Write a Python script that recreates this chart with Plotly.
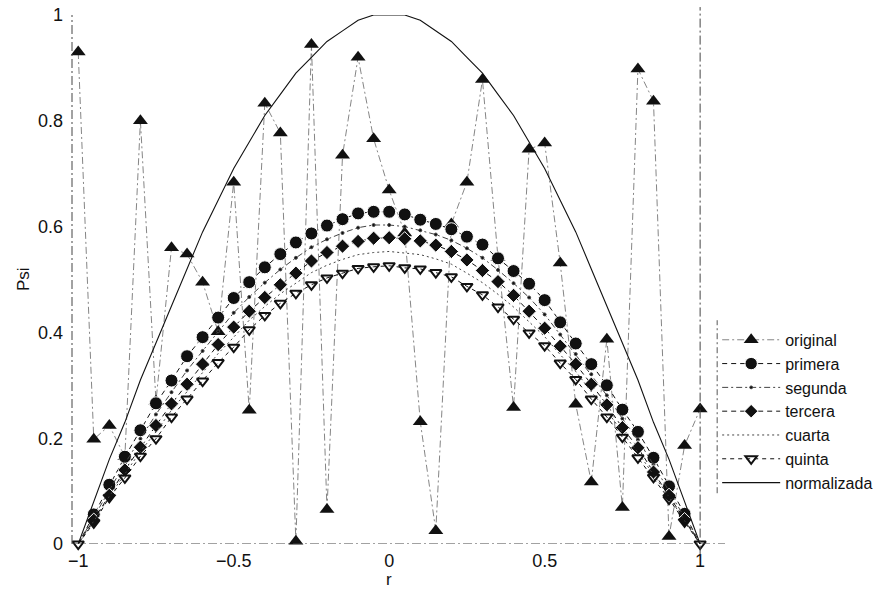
import plotly.graph_objects as go

# radial grid
r = [-1.0, -0.95, -0.9, -0.85, -0.8, -0.75, -0.7, -0.65, -0.6, -0.55,
     -0.5, -0.45, -0.4, -0.35, -0.3, -0.25, -0.2, -0.15, -0.1, -0.05,
     0.0, 0.05, 0.1, 0.15, 0.2, 0.25, 0.3, 0.35, 0.4, 0.45,
     0.5, 0.55, 0.6, 0.65, 0.7, 0.75, 0.8, 0.85, 0.9, 0.95, 1.0]

original = [0.93, 0.198, 0.224, 0.165, 0.80, 0.27, 0.56, 0.548, 0.495, 0.401,
            0.684, 0.253, 0.833, 0.777, 0.005, 0.944, 0.065, 0.735, 0.920, 0.766,
            0.669, 0.588, 0.231, 0.025, 0.605, 0.684, 0.878, 0.541, 0.258, 0.746,
            0.758, 0.531, 0.264, 0.117, 0.387, 0.069, 0.898, 0.837, 0.014, 0.186,
            0.255]

primera = [0, 0.056, 0.112, 0.165, 0.215, 0.266, 0.309, 0.355, 0.391, 0.428,
           0.465, 0.495, 0.523, 0.548, 0.570, 0.587, 0.602, 0.614, 0.625, 0.628,
           0.628, 0.623, 0.613, 0.605, 0.595, 0.581, 0.566, 0.540, 0.516, 0.492,
           0.461, 0.419, 0.379, 0.340, 0.300, 0.254, 0.212, 0.163, 0.109, 0.057, 0]

segunda = [0, 0.050, 0.102, 0.152, 0.199, 0.245, 0.287, 0.328, 0.365, 0.402,
           0.437, 0.467, 0.494, 0.519, 0.541, 0.561, 0.576, 0.588, 0.598, 0.603,
           0.603, 0.600, 0.593, 0.585, 0.574, 0.559, 0.541, 0.518, 0.493, 0.466,
           0.434, 0.396, 0.359, 0.321, 0.281, 0.237, 0.197, 0.150, 0.100, 0.051, 0]

tercera = [0, 0.045, 0.092, 0.140, 0.183, 0.224, 0.265, 0.302, 0.340, 0.377,
           0.410, 0.440, 0.466, 0.490, 0.512, 0.535, 0.551, 0.563, 0.572, 0.578,
           0.579, 0.577, 0.573, 0.565, 0.553, 0.537, 0.517, 0.496, 0.470, 0.440,
           0.408, 0.374, 0.340, 0.302, 0.263, 0.220, 0.182, 0.136, 0.092, 0.046, 0]

cuarta = [0, 0.043, 0.090, 0.133, 0.175, 0.212, 0.253, 0.288, 0.324, 0.360,
          0.391, 0.423, 0.449, 0.473, 0.493, 0.513, 0.527, 0.538, 0.547, 0.551,
          0.553, 0.550, 0.547, 0.539, 0.529, 0.512, 0.494, 0.472, 0.448, 0.420,
          0.392, 0.358, 0.326, 0.288, 0.252, 0.211, 0.173, 0.131, 0.089, 0.044, 0]

quinta = [0, 0.040, 0.088, 0.125, 0.166, 0.199, 0.240, 0.274, 0.308, 0.343,
          0.372, 0.405, 0.432, 0.455, 0.474, 0.490, 0.503, 0.512, 0.521, 0.524,
          0.526, 0.522, 0.520, 0.513, 0.505, 0.487, 0.471, 0.448, 0.425, 0.399,
          0.375, 0.342, 0.311, 0.274, 0.240, 0.202, 0.163, 0.126, 0.085, 0.042, 0]

normalizada = [0, 0.08, 0.16, 0.23, 0.31, 0.38, 0.45, 0.52, 0.59, 0.65,
               0.71, 0.76, 0.81, 0.85, 0.89, 0.92, 0.95, 0.97, 0.99, 1.0,
               1.0, 1.0, 0.99, 0.97, 0.95, 0.92, 0.89, 0.85, 0.81, 0.76,
               0.71, 0.65, 0.59, 0.52, 0.45, 0.38, 0.31, 0.23, 0.16, 0.08, 0]

x_ticks = [-1, -0.5, 0, 0.5, 1]
y_ticks = [0, 0.2, 0.4, 0.6, 0.8, 1]

INK = "#111111"
FONT = "Liberation Sans, Arial, Helvetica, sans-serif"


def inner_sizes(size, n):
    # hide the markers on the boundary points r = -1 and r = 1
    return [0] + [size] * (n - 2) + [0]


fig = go.Figure()

fig.add_trace(go.Scatter(
    x=r, y=original, name="original", mode="lines+markers",
    line=dict(color="#666666", width=0.8, dash="7px,3px,2px,3px"),
    marker=dict(symbol="triangle-up", size=13, color=INK, opacity=1),
    cliponaxis=False,
))
fig.add_trace(go.Scatter(
    x=r, y=primera, name="primera", mode="lines+markers",
    line=dict(color=INK, width=1, dash="5px,4px"),
    marker=dict(symbol="circle", size=inner_sizes(13, len(r)), color=INK, opacity=1),
    cliponaxis=False,
))
fig.add_trace(go.Scatter(
    x=r, y=segunda, name="segunda", mode="lines+markers",
    line=dict(color="#444444", width=1, dash="6px,3px,2px,3px"),
    marker=dict(symbol="circle", size=inner_sizes(3, len(r)), color=INK, opacity=1),
    cliponaxis=False,
))
fig.add_trace(go.Scatter(
    x=r, y=tercera, name="tercera", mode="lines+markers",
    line=dict(color=INK, width=1, dash="5px,4px"),
    marker=dict(symbol="diamond", size=inner_sizes(11, len(r)), color=INK, opacity=1),
    cliponaxis=False,
))
fig.add_trace(go.Scatter(
    x=r, y=cuarta, name="cuarta", mode="lines",
    line=dict(color="#444444", width=1, dash="2px,3px"),
    cliponaxis=False,
))
fig.add_trace(go.Scatter(
    x=r, y=quinta, name="quinta", mode="lines+markers",
    line=dict(color=INK, width=1, dash="4px,4px"),
    marker=dict(symbol="triangle-down-open", size=10, color=INK, opacity=1,
                line=dict(width=2, color=INK)),
    cliponaxis=False,
))
fig.add_trace(go.Scatter(
    x=r, y=normalizada, name="normalizada", mode="lines",
    line=dict(color=INK, width=1.1),
    cliponaxis=False,
))

axis_line = dict(color="#444444", width=1, dash="9px,3px,2px,3px")
fig.add_shape(type="line", xref="paper", yref="y", x0=0, x1=1, y0=0, y1=0,
              line=axis_line)
fig.add_shape(type="line", xref="paper", yref="paper", x0=0, x1=0, y0=0, y1=1,
              line=axis_line)
fig.add_shape(type="line", xref="x", yref="paper", x0=x_ticks[-1], x1=x_ticks[-1],
              y0=-0.02, y1=1.015, line=axis_line)
# legend frame edge
fig.add_shape(type="line", xref="paper", yref="paper", x0=0.988, x1=0.988,
              y0=0.096, y1=0.423, line=dict(color="#555555", width=1, dash="6px,3px,2px,3px"))

# axis titles
fig.add_annotation(text="r", xref="x", x=0, yref="paper", y=0, yanchor="middle",
                   yshift=-35, showarrow=False, font=dict(family=FONT, size=17, color=INK))
fig.add_annotation(text="Psi", xref="paper", x=0, xshift=-60, yref="paper", y=0.5,
                   textangle=-90, showarrow=False, font=dict(family=FONT, size=17, color=INK))

fig.update_layout(
    width=892, height=589,
    margin=dict(l=72, r=167, t=15, b=45, autoexpand=False),
    paper_bgcolor="white", plot_bgcolor="white",
    font=dict(family=FONT, size=18, color=INK),
    showlegend=True,
    legend=dict(
        x=0.988, xanchor="left", y=0.418, yanchor="top",
        bgcolor="rgba(0,0,0,0)", borderwidth=0,
        font=dict(family=FONT, size=16, color=INK),
        itemwidth=58, tracegroupgap=0,
    ),
    xaxis=dict(
        range=[-1.02, 1.08], showgrid=False, zeroline=False, showline=False,
        tickmode="array", tickvals=x_ticks, ticks="", automargin=False,
        ticklabelstandoff=4,
    ),
    yaxis=dict(
        range=[0, 1.0], showgrid=False, zeroline=False, showline=False,
        tickmode="array", tickvals=y_ticks, ticks="", automargin=False,
        ticklabelstandoff=8,
    ),
)

fig.write_html("out.html")
